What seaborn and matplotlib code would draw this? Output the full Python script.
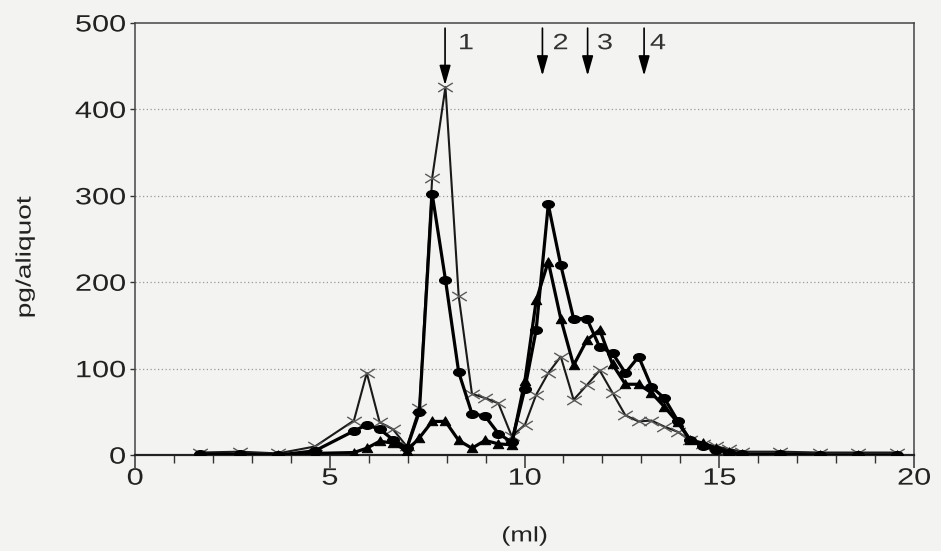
import numpy as np
import pandas as pd
import matplotlib
matplotlib.use("Agg")
import matplotlib.pyplot as plt
import seaborn as sns
from matplotlib.path import Path
from matplotlib.patheffects import AbstractPathEffect
from matplotlib.transforms import Affine2D

# ---- data ----
x_ml = [1.67, 2.70, 3.67, 4.62, 5.62, 5.95, 6.28, 6.62, 6.98, 7.30, 7.63, 7.97, 8.31,
        8.65, 8.99, 9.33, 9.67, 10.01, 10.30, 10.61, 10.93, 11.26, 11.60, 11.93, 12.26,
        12.59, 12.93, 13.26, 13.59, 13.93, 14.26, 14.59, 14.92, 15.25, 15.58, 16.56,
        17.58, 18.56, 19.56]
crosses = [3, 4, 2, 10, 40, 95, 38, 30, 10, 55, 321, 426, 184, 71, 66, 60, 22, 35, 70,
           95, 114, 64, 81, 98, 72, 46, 39, 40, 33, 27, 17, 13, 10, 7, 4, 4, 3, 3, 3]
circles = [1, 1, 0, 5, 28, 35, 30, 18, 8, 50, 302, 203, 96, 48, 45, 25, 15, 77, 145,
           290, 220, 158, 158, 125, 118, 95, 114, 79, 66, 40, 17, 10, 6, 3, 1, 1, 0, 0, 0]
triangles = [0, 0, 0, 2, 3, 8, 16, 14, 5, 20, 39, 39, 17, 8, 17, 13, 12, 86, 179, 224,
             158, 104, 133, 145, 105, 82, 82, 72, 56, 38, 17, 14, 8, 4, 1, 1, 0, 0, 0]

arrow_x = [7.96, 10.46, 11.62, 13.07]
arrow_tip = [428, 439, 439, 439]
arrow_labels = ["1", "2", "3", "4"]
label_x = [8.29, 10.72, 11.86, 13.22]

x_ticks = [0, 5, 10, 15, 20]
y_ticks = [0, 100, 200, 300, 400, 500]


class HStretch(AbstractPathEffect):
    """Stretch text glyphs horizontally (the reference text is wide)."""
    def __init__(self, sx=1.3, anchor=0.5):
        super().__init__()
        self.sx = sx
        self.anchor = anchor

    def draw_path(self, renderer, gc, tpath, affine, rgbFace=None):
        v = tpath.vertices
        if len(v):
            x0 = v[:, 0].min() + self.anchor * (v[:, 0].max() - v[:, 0].min())
        else:
            x0 = 0.0
        t = Affine2D().translate(-x0, 0).scale(self.sx, 1).translate(x0, 0) + affine
        renderer.draw_path(gc, tpath, t, rgbFace)


# wide marker shapes
ell = Path.unit_circle()
ellipse_marker = Path(ell.vertices * np.array([1.5, 1.0]), ell.codes)
tri_marker = Path([(-1, -0.8), (1, -0.8), (0, 0.9), (-1, -0.8)],
                  [Path.MOVETO, Path.LINETO, Path.LINETO, Path.CLOSEPOLY])
cross_marker = Path([(-1, -0.62), (1, 0.62), (-1, 0.62), (1, -0.62)],
                    [Path.MOVETO, Path.LINETO, Path.MOVETO, Path.LINETO])

# ---- style ----
sns.set_theme(style="white")
plt.rcParams["font.family"] = ["Liberation Sans", "DejaVu Sans"]
bg = "#f3f3f1"
txt = "#222222"

fig = plt.figure(figsize=(9.41, 5.51), dpi=100, facecolor=bg)
ax = fig.add_axes([0.1435, 0.174, 0.8278, 0.7843], facecolor=bg)

df = pd.DataFrame({"ml": x_ml, "cross": crosses, "circle": circles, "tri": triangles})

sns.lineplot(data=df, x="ml", y="cross", ax=ax, sort=False, estimator=None,
             color="#1a1a1a", lw=1.5, marker=cross_marker, markersize=10.5,
             markerfacecolor="none", markeredgecolor="#5a5a5a",
             markeredgewidth=1.0, zorder=3)
sns.lineplot(data=df, x="ml", y="tri", ax=ax, sort=False, estimator=None,
             color="black", lw=2.3, marker=tri_marker, markersize=7.5,
             markeredgecolor="black", markerfacecolor="black", zorder=4)
sns.lineplot(data=df, x="ml", y="circle", ax=ax, sort=False, estimator=None,
             color="black", lw=2.3, marker=ellipse_marker, markersize=8.6,
             markeredgecolor="black", markerfacecolor="black", zorder=5)

ax.set_xlim(0, 20)
ax.set_ylim(0, 500)
ax.set_xticks(x_ticks)
ax.set_xticks(range(0, 21), minor=True)
ax.set_yticks(y_ticks)
ax.set_xticklabels([str(v) for v in x_ticks], fontsize=17, color=txt)
ax.set_yticklabels([str(v) for v in y_ticks], fontsize=17, color=txt)
ax.tick_params(axis="x", which="major", direction="out", length=9, width=1.1,
               color="#333333", pad=0, bottom=True)
ax.tick_params(axis="x", which="minor", direction="out", length=6, width=1.0,
               color="#333333", bottom=True)
ax.tick_params(axis="y", which="major", direction="out", length=3.6, width=1.0,
               color="#333333", pad=3, left=True)
for lab in ax.get_xticklabels():
    lab.set_path_effects([HStretch(1.3, 0.5)])
for lab in ax.get_yticklabels():
    lab.set_path_effects([HStretch(1.3, 1.0)])

for yv in y_ticks[1:-1]:
    ax.axhline(yv, color="#9a9a9a", lw=0.9, ls=(0, (1, 2)), zorder=1)

for side in ["top", "right", "left"]:
    ax.spines[side].set_visible(True)
    ax.spines[side].set_color("#444444")
    ax.spines[side].set_linewidth(1.1)
ax.spines["bottom"].set_color("#222222")
ax.spines["bottom"].set_linewidth(1.6)

xl = ax.set_xlabel("(ml)", fontsize=15, color=txt)
ax.xaxis.set_label_coords(0.5, -0.165)
xl.set_path_effects([HStretch(1.3, 0.5)])
yl = ax.set_ylabel("pg/aliquot", fontsize=15, color=txt)
ax.yaxis.set_label_coords(-0.129, 0.458)
yl.set_path_effects([HStretch(1.35, 0.5)])

for xa, tip, lx, lab in zip(arrow_x, arrow_tip, label_x, arrow_labels):
    ax.annotate("", xy=(xa, tip), xytext=(xa, 494),
                arrowprops=dict(arrowstyle="-|>,head_length=0.6,head_width=0.17",
                                mutation_scale=20, shrinkA=0, shrinkB=0,
                                color="black", lw=1.2), zorder=6)
    t = ax.text(lx, 476, lab, fontsize=16, color="#333333", ha="left", va="center")
    t.set_path_effects([HStretch(1.3, 0.0)])

fig.savefig("out.png", dpi=100, facecolor=bg)
